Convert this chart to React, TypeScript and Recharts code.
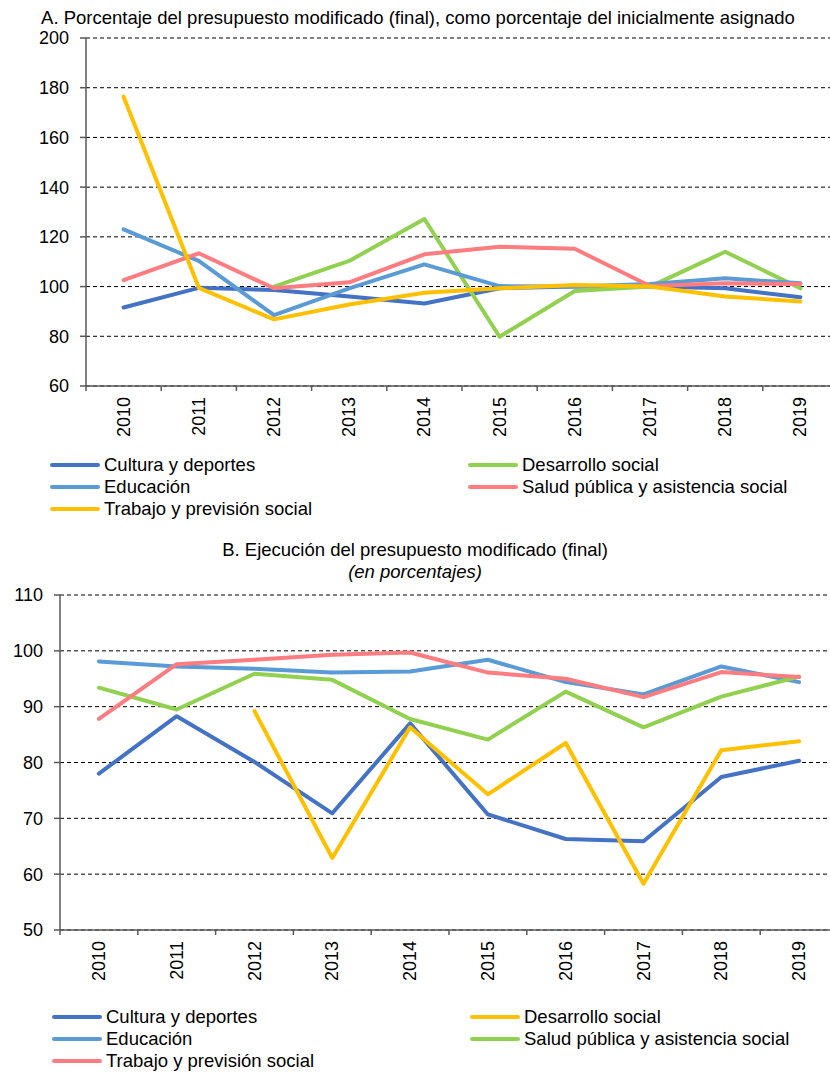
import React from 'react';
import { LineChart, Line, XAxis, YAxis, CartesianGrid } from 'recharts';

const years = ['2010', '2011', '2012', '2013', '2014', '2015', '2016', '2017', '2018', '2019'];

// A. presupuesto modificado como % del inicial
const aCultura = [91.6, 99.5, 98.6, 96.0, 93.2, 99.3, 100.0, 100.0, 99.3, 95.7];
const aDesarrollo = [null, null, 100.0, 110.3, 127.2, 79.8, 98.2, 100.0, 114.0, 99.3];
const aEducacion = [123.0, 110.3, 88.5, 99.3, 108.9, 100.2, 100.0, 101.0, 103.3, 101.3];
const aSalud = [102.6, 113.4, 99.3, 101.7, 113.0, 116.0, 115.2, 100.2, 101.3, 101.0];
const aTrabajo = [176.4, 99.5, 86.8, 92.8, 97.5, 99.3, 100.6, 100.0, 96.0, 94.0];
const aTicks = [60, 80, 100, 120, 140, 160, 180, 200];

// B. ejecución del presupuesto modificado
const bCultura = [78.0, 88.3, 80.1, 70.9, 87.0, 70.7, 66.3, 65.9, 77.4, 80.3];
const bDesarrollo = [null, null, 89.2, 62.9, 86.3, 74.3, 83.5, 58.3, 82.2, 83.8];
const bEducacion = [98.1, 97.2, 96.8, 96.1, 96.3, 98.4, 94.4, 92.2, 97.2, 94.4];
const bSalud = [93.4, 89.5, 95.9, 94.8, 87.8, 84.1, 92.7, 86.3, 91.8, 95.4];
const bTrabajo = [87.8, 97.6, 98.4, 99.3, 99.7, 96.1, 95.0, 91.7, 96.2, 95.3];
const bTicks = [50, 60, 70, 80, 90, 100, 110];

const FONT = '"Liberation Sans", Arial, sans-serif';
const AXIS = '#595959';
const TICK_FS = 18;
const TEXT_FS = 18.5;

const seriesA = [
  { key: 'cultura', name: 'Cultura y deportes', color: '#4472C4', values: aCultura },
  { key: 'desarrollo', name: 'Desarrollo social', color: '#92D050', values: aDesarrollo },
  { key: 'educacion', name: 'Educación', color: '#5B9BD5', values: aEducacion },
  { key: 'salud', name: 'Salud pública y asistencia social', color: '#FF7C80', values: aSalud },
  { key: 'trabajo', name: 'Trabajo y previsión social', color: '#FFC000', values: aTrabajo },
];

const seriesB = [
  { key: 'cultura', name: 'Cultura y deportes', color: '#4472C4', values: bCultura },
  { key: 'desarrollo', name: 'Desarrollo social', color: '#FFC000', values: bDesarrollo },
  { key: 'educacion', name: 'Educación', color: '#5B9BD5', values: bEducacion },
  { key: 'salud', name: 'Salud pública y asistencia social', color: '#92D050', values: bSalud },
  { key: 'trabajo', name: 'Trabajo y previsión social', color: '#FF7C80', values: bTrabajo },
];

const toRows = (series: typeof seriesA) =>
  years.map((y, i) => {
    const row: any = { year: y };
    series.forEach((s) => (row[s.key] = s.values[i]));
    return row;
  });

const XTick = (props: any) => {
  const { x, y, payload, index, band, count } = props;
  return (
    <g>
      <line x1={x - band / 2} x2={x - band / 2} y1={y} y2={y + 5} stroke={AXIS} strokeWidth={1.5} />
      {index === count - 1 && (
        <line x1={x + band / 2} x2={x + band / 2} y1={y} y2={y + 5} stroke={AXIS} strokeWidth={1.5} />
      )}
      <text
        x={x}
        y={y + 11}
        transform={`rotate(-90, ${x}, ${y + 11})`}
        textAnchor="end"
        dominantBaseline="central"
        fontSize={TICK_FS}
        fontFamily={FONT}
        fill="#000"
      >
        {payload.value}
      </text>
    </g>
  );
};

function Panel({ series, ticks, domain, top, height, marginTop, axisW, axisH }: any) {
  const chartW = 840;
  const band = (chartW - 2 - axisW) / years.length;
  return (
    <div style={{ position: 'absolute', left: 0, top, width: 830, height, overflow: 'hidden' }}>
      <LineChart
        width={chartW}
        height={height}
        data={toRows(series)}
        margin={{ top: marginTop, right: 2, bottom: 0, left: 0 }}
      >
        <CartesianGrid vertical={false} stroke="#000" strokeDasharray="4 3" />
        <XAxis
          dataKey="year"
          height={axisH}
          interval={0}
          padding={{ left: band / 2, right: band / 2 }}
          tickLine={false}
          tickSize={0}
          tickMargin={0}
          axisLine={{ stroke: AXIS, strokeWidth: 1.5 }}
          tick={<XTick band={band} count={years.length} />}
        />
        <YAxis
          width={axisW}
          domain={domain}
          ticks={ticks}
          interval={0}
          tickSize={6}
          tickMargin={11}
          tickLine={{ stroke: AXIS, strokeWidth: 1.5 }}
          axisLine={{ stroke: AXIS, strokeWidth: 1.5 }}
          tick={{ fontSize: TICK_FS, fontFamily: FONT, fill: '#000' }}
        />
        {series.map((s: any) => (
          <Line
            key={s.key}
            dataKey={s.key}
            name={s.name}
            stroke={s.color}
            strokeWidth={4}
            strokeLinecap="round"
            strokeLinejoin="round"
            dot={false}
            activeDot={false}
            isAnimationActive={false}
          />
        ))}
      </LineChart>
    </div>
  );
}

function LegendBox({ series, top, left }: any) {
  return (
    <div
      style={{
        position: 'absolute',
        top,
        left,
        display: 'grid',
        gridTemplateColumns: '418px 360px',
        fontFamily: FONT,
        fontSize: TEXT_FS,
        lineHeight: '22px',
      }}
    >
      {series.map((s: any) => (
        <div key={s.key} style={{ display: 'flex', alignItems: 'center', whiteSpace: 'nowrap' }}>
          <span
            style={{
              display: 'inline-block',
              width: 50,
              height: 4,
              borderRadius: 2,
              background: s.color,
              marginRight: 4,
            }}
          />
          {s.name}
        </div>
      ))}
    </div>
  );
}

export default function App() {
  return (
    <div style={{ position: 'absolute', left: 0, top: 0, width: 830, height: 1072, background: '#fff', fontFamily: FONT }}>
      <div style={{ position: 'absolute', top: 6, left: 0, width: 836, textAlign: 'center', fontSize: TEXT_FS, lineHeight: '24px', whiteSpace: 'nowrap' }}>
        A. Porcentaje del presupuesto modificado (final), como porcentaje del inicialmente asignado
      </div>
      <Panel series={seriesA} ticks={aTicks} domain={[60, 200]} top={0} height={440} marginTop={38} axisW={86} axisH={54} />
      <LegendBox series={seriesA} top={454} left={50} />

      <div style={{ position: 'absolute', top: 539, left: 0, width: 830, textAlign: 'center', fontSize: TEXT_FS, lineHeight: '22px' }}>
        B. Ejecución del presupuesto modificado (final)
        <br />
        <i>(en porcentajes)</i>
      </div>
      <Panel series={seriesB} ticks={bTicks} domain={[50, 110]} top={580} height={410} marginTop={15} axisW={60} axisH={60} />
      <LegendBox series={seriesB} top={1006} left={52} />
    </div>
  );
}
